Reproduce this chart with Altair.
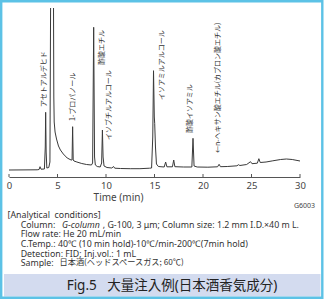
import altair as alt
import pandas as pd

# ---- chromatogram trace ----
time_min = [0.0, 2.9, 3.1, 3.2, 3.3, 3.65, 3.74, 3.78, 3.83, 3.9, 4.1, 4.22, 4.3, 4.58, 4.62,
            4.66, 4.75, 4.9, 5.1, 5.3, 5.6, 6.0, 6.4, 6.5, 6.56, 6.62, 6.7, 7.0, 7.5, 8.0,
            8.5, 8.62, 8.73, 8.82, 8.9, 9.1, 9.4, 9.55, 9.63, 9.7, 9.8, 10.1, 10.6, 10.78,
            10.9, 11.5, 12.5, 13.5, 14.5, 14.7, 14.82, 14.9, 14.98, 15.02, 15.1, 15.2, 15.4,
            16.0, 16.15, 16.28, 16.85, 16.98, 17.1, 18.0, 18.85, 18.97, 19.08, 19.4, 20.5,
            21.5, 21.66, 21.8, 22.5, 23.5, 23.66, 23.8, 24.5, 24.9, 25.05, 25.6, 25.76, 25.9,
            26.5, 27.2, 28.0, 28.6, 29.2, 30.0]
signal = [7.0, 7.2, 7.5, 10.3, 7.8, 8.0, 30, 64.7, 25, 9, 9.5, 15, 200, 200, 80,
          55, 45, 38, 31, 27, 23, 19, 17, 17, 50.3, 17, 16, 15, 13.5, 12.5,
          12, 14, 149.7, 20, 12, 10.5, 10, 14, 47, 20, 11, 9.5, 9, 10.5,
          8.8, 8.5, 8.3, 8.3, 8.8, 9, 40, 106.3, 60, 53.7, 30, 13, 10.5,
          10, 15, 10.2, 10.2, 17, 10.3, 10, 10, 38.7, 11, 10, 9.8,
          10.2, 12.7, 10.3, 10.5, 11.2, 12.3, 11.5, 12.5, 15.3, 13.3, 13.8, 18.3, 14.5,
          15, 16.2, 17.5, 18, 17.5, 16]

# ---- peak labels ----
peak_names = ["アセトアルデヒド", "1-プロパノール", "酢酸エチル", "イソブチルアルコール",
              "イソアミルアルコール", "酢酸イソアミル", "←n-ヘキサン酸エチル(カプロン酸エチル)"]
label_time = [3.6, 6.6, 9.6, 10.3, 15.8, 18.7, 21.5]
label_base = [70, 56, 112, 37, 77, 44, 24]

x_ticks = [0, 5, 10, 15, 20, 25, 30]
axis_title = "Time (min)"
code_text = "G6003"
NB = "\u00a0"
cond_lines = ["[Analytical" + NB + NB + "conditions]", "Column: ", "G-column",
              ", G-100, 3 μm; Column size: 1.2 mm I.D.×40 m L.",
              "Flow rate: He 20 mL/min",
              "C.Temp.: 40℃ (10 min hold)-10℃/min-200℃(7min hold)",
              "Detection: FID; Inj.vol.: 1 mL",
              "Sample:" + NB + NB, "日本酒(ヘッドスペースガス; 60℃)"]
caption = "Fig.5" + NB + NB + NB + "大量注入例(日本酒香気成分)"

W, H = 291, 169
PL, PT = 9, 8
FONT = '"Noto Sans", "Noto Sans CJK JP", sans-serif'
JFONT = '"Noto Sans CJK JP", sans-serif'

xs = alt.Scale(domain=[0, 30], nice=False, zero=False)
ys = alt.Scale(domain=[0, 169], nice=False, zero=False)


def txt(s, x, y, size=8.8, align="left", baseline="middle", color="#333333",
        font=FONT, style="normal"):
    return alt.Chart(alt.Data(values=[{"s": s}])).mark_text(
        align=align, baseline=baseline, fontSize=size, font=font, color=color,
        fontStyle=style
    ).encode(text="s:N", x=alt.value(x - PL), y=alt.value(y - PT))


def box(x1, y1, x2, y2, fill=None, stroke=None, sw=0):
    kw = {}
    if fill is not None:
        kw["fill"] = fill
    else:
        kw["fillOpacity"] = 0
    if stroke is not None:
        kw["stroke"] = stroke
        kw["strokeWidth"] = sw
    return alt.Chart(alt.Data(values=[{}])).mark_rect(**kw).encode(
        x=alt.value(x1 - PL), x2=alt.value(x2 - PL),
        y=alt.value(y1 - PT), y2=alt.value(y2 - PT))


band = box(4, 274, 320.5, 296.5, fill="#d3dbef")
frame = box(1.2, 1.2, 322.3, 297.8, stroke="#5cc2e6", sw=2.4)

trace = alt.Chart(pd.DataFrame({"t": time_min, "s": signal})).mark_line(
    color="#3a3a3a", strokeWidth=1, clip=True
).encode(
    x=alt.X("t:Q", scale=xs, axis=alt.Axis(
        values=x_ticks, ticks=False, grid=False, domainColor="#555555",
        domainWidth=1, labelFontSize=9.5, labelColor="#444444", labelFont=FONT,
        labelPadding=3, title=axis_title, titleFont=FONT, titleFontSize=10,
        titleFontWeight="normal", titleColor="#444444", titleX=109, titleY=20,
        titleBaseline="middle", titleAlign="center", labelFlush=False)),
    y=alt.Y("s:Q", scale=ys, axis=None),
)

ticks = alt.Chart(pd.DataFrame({"tk": x_ticks})).mark_rule(
    color="#555555", strokeWidth=1
).encode(x=alt.X("tk:Q", scale=xs, axis=None), y=alt.value(H - 3), y2=alt.value(H))

labels = alt.Chart(pd.DataFrame({"name": peak_names, "lt": label_time, "b": label_base})).mark_text(
    angle=270, align="left", baseline="middle", fontSize=7, font=JFONT, color="#333333"
).encode(x=alt.X("lt:Q", scale=xs, axis=None), y=alt.Y("b:Q", scale=ys, axis=None), text="name:N")

texts = [
    txt(code_text, 315, 206, size=7, align="right", color="#444444"),
    txt(cond_lines[0], 7.5, 215),
    txt(cond_lines[1], 20.7, 224.8),
    txt(cond_lines[2], 62.0, 224.8, style="italic"),
    txt(cond_lines[3], 102.8, 224.8),
    txt(cond_lines[4], 20.7, 234.4),
    txt(cond_lines[5], 20.7, 244),
    txt(cond_lines[6], 20.7, 253.6),
    txt(cond_lines[7], 20.7, 263.2),
    txt(cond_lines[8], 59.5, 263.2, size=8.2, font=JFONT),
    txt(caption, 172, 285.5, size=13.5, align="center", color="#222222"),
]

chart = alt.layer(band, frame, trace, ticks, labels, *texts).properties(
    width=W, height=H,
    autosize=alt.AutoSizeParams(type="none"),
    padding={"left": PL, "top": PT, "right": 325 - PL - W, "bottom": 300 - PT - H},
    background="white",
).resolve_axis(x="independent").configure_view(stroke=None)

chart.save("out.html", embed_options={"renderer": "svg", "actions": False})
